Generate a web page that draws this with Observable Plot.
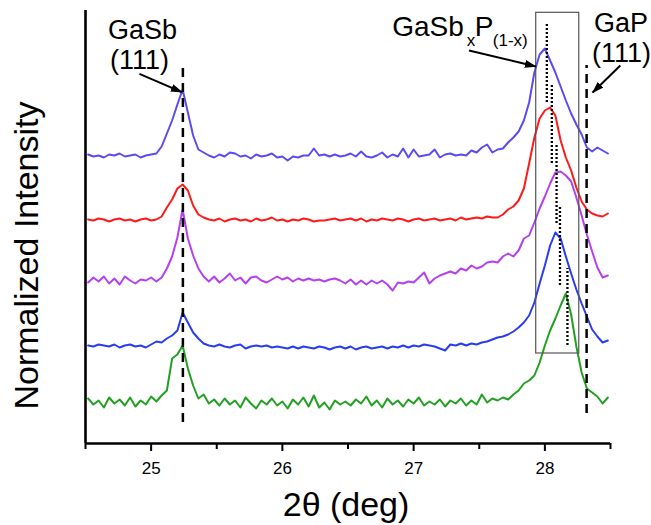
<!DOCTYPE html>
<html><head><meta charset="utf-8">
<script src="https://cdn.jsdelivr.net/npm/d3@7"></script>
<script src="https://cdn.jsdelivr.net/npm/@observablehq/plot@0.6"></script>
<style>body{margin:0;background:#fff;} svg{display:block}</style>
</head><body><div id="chart"></div>
<script>
// 2θ sampling (deg)
const twoTheta = d3.range(100).map(j => +(24.52 + 0.04 * j).toFixed(2));
// vertical offsets of the stacked scans
const offsets = [28.8, 22.4, 16.5, 9.8, 4.1];
const colors = ["#5a4cf2", "#ff1a1a", "#b440f0", "#2a3cf0", "#22a022"];
// relative normalized intensity of each scan
const s1 = [0.1,-0.1,0,-0.2,0.1,0,0.2,-0.1,0,0.1,-0.2,0,0.1,
  0.2,0.9,2.2,3.5,5.1,6.6,4.3,2.0,0.6,0.3,
  0,-0.2,0.1,-0.1,0.3,0.2,-0.1,0,-0.3,0.1,-0.1,0,0.2,-0.2,-0.1,-0.5,-0.1,-0.2,0,0,
  0.7,0,0.1,-0.1,0.1,-0.1,0,0.2,-0.1,0.4,-0.1,-0.2,0,0.3,-0.2,0.1,-0.1,0.7,-0.2,0.6,
  -0.1,0,0.1,0.6,-0.2,0.1,0.2,0,0.1,0,0.5,0.3,0.8,1.1,0.3,0.6,0.7,1.3,1.8,2.4,
  3.5,5.3,8.3,10.1,10.7,9.5,8.3,6.9,5.5,4.2,3.1,2.1,0.8,0.4,0.8,0.5,0.2];
const s2 = [0,-0.1,0.1,0,-0.2,0,0.1,-0.1,0,-0.2,0,0.1,-0.1,0,
  0.3,1.2,2.0,3.1,3.5,2.9,1.4,0.5,0.2,
  0,-0.1,0.1,-0.2,0,0.1,-0.1,0,-0.2,0.1,-0.1,0,0.2,-0.1,0,-0.2,0,-0.1,0.1,0,
  -0.2,-0.1,-0.1,0,0.1,-0.1,0,0.1,-0.1,0.1,-0.2,0,-0.1,0.1,0,-0.1,0.1,0,-0.2,0,
  0.1,-0.1,0,0.1,-0.1,0,0.1,-0.1,0.2,0,0.1,0.2,0.1,0.3,0.2,0.2,0.5,1.0,1.3,1.9,
  3.1,5.6,8.2,10.1,10.9,11.2,10.4,7.9,6.2,4.9,3.2,1.8,1.0,0.6,0.4,0.3,0.6];
const s3 = [-0.4,0.1,-0.3,0.2,-0.5,0,-0.6,0.2,-0.2,-0.5,-0.1,-0.2,0.1,-0.3,
  0.1,1.0,2.2,4.1,6.9,4.0,2.3,1.0,0.2,
  -0.3,0.2,-0.4,0,0.5,-0.2,0.1,-0.5,0.1,0.2,-0.2,-0.4,-0.1,0.2,-0.1,0.1,-0.3,0,-0.2,0,
  -0.2,-0.1,-0.3,-0.1,0,-0.2,-0.5,-0.1,-0.6,-0.2,-0.6,-0.2,-0.5,-0.2,-0.6,-1.2,-0.4,-0.5,-0.3,-0.4,
  0.1,0.6,-0.5,0,0.3,0.5,0.7,0.5,1.0,0.8,1.3,1.0,1.2,1.6,1.7,1.6,2.2,2.5,2.2,2.8,
  4.0,4.3,5.6,7.0,8.2,9.5,10.6,10.7,10.3,9.7,8.1,6.3,4.4,2.7,1.1,0.1,0.3];
const s4 = [0,-0.1,0.1,0,-0.1,0.1,-0.2,0,0.1,-0.1,0,-0.2,
  0.1,0.4,0.3,0.7,1.0,1.5,3.3,2.3,1.3,0.7,0.2,
  0,-0.1,0.1,-0.1,-0.2,0,0.1,-0.3,-0.1,0,-0.1,0,-0.2,-0.1,-0.2,-0.3,-0.1,-0.3,-0.1,-0.2,
  -0.3,-0.1,-0.2,-0.4,-0.2,-0.1,-0.3,-0.1,-0.4,-0.2,-0.1,-0.3,-0.2,-0.1,-0.3,-0.1,-0.2,0,-0.2,0,
  -0.1,0.1,0,-0.1,-0.3,-0.5,0.1,0,0.2,0,0.2,0.1,0.3,0.4,0.6,0.8,0.9,1.1,1.4,1.8,
  2.3,3.0,4.3,6.2,8.0,10.0,11.3,10.7,8.9,7.2,5.6,4.2,2.9,1.6,0.9,0.3,0.5];
const s5 = [0.4,-0.2,0.2,-0.5,0.5,-0.1,0.3,-0.3,0.5,-0.4,0.2,-0.2,0.6,0.1,
  0.7,1.2,4.4,4.8,5.7,3.4,1.7,0.4,0.8,
  -0.1,0.3,-0.3,0.4,-0.2,0.2,-0.5,0.5,-0.1,-0.6,0.2,-0.2,0.4,-0.3,0.1,-0.6,0.3,-0.2,0.5,-0.4,
  0.7,-0.5,0,-0.7,0.2,-0.2,0.1,-0.3,0.3,-0.1,0.6,-0.3,0.2,-0.5,0.4,-0.2,0.2,-0.4,0.3,-0.1,
  0.5,-0.3,0.1,-0.2,0.3,-0.4,0.2,-0.1,0.4,-0.3,0.2,-0.2,0.8,0,0.4,0.2,0.5,0.3,0.8,1.2,
  1.9,2.2,2.7,4.0,5.7,7.2,8.4,9.7,10.9,8.8,5.6,3.0,1.4,1.0,0.6,-0.1,0.5];
// reference reflections (2θ) and GaSbxP(1-x) peak positions
const refX = [25.242, 28.318];
const peakX = [28.015, 28.053, 28.089, 28.115, 28.172];
const majorTicks = [25, 26, 27, 28];
const minorTicks = [24.5, 25.5, 26.5, 27.5, 28.5];

const series = [s1, s2, s3, s4, s5];
const rows = series.flatMap((s, k) => s.map((r, j) => ({x: twoTheta[j], y: offsets[k] + r, k})));

const refRows = [
  {x: refX[0], y1: 2.1, y2: 38.0},
  {x: refX[1], y1: 3.0, y2: 37.8}
];
const peakRows = peakX.map((x, k) => ({x, y1: offsets[k] + [5.3, 5.6, 5.5, 6.0, 5.7][k], y2: offsets[k] + [13.2, 13.4, 13.3, 14.0, 13.4][k]}));

const marks = [
  Plot.ruleY([0], {stroke: "black", strokeWidth: 2.6}),
  Plot.ruleX([24.5], {stroke: "black", strokeWidth: 2.6}),
  Plot.axisX({ticks: majorTicks, tickSize: 8, tickPadding: 10, strokeWidth: 2, fontSize: 17, tickFormat: d3.format("d"), label: null}),
  Plot.axisX({ticks: minorTicks, tickSize: 6, strokeWidth: 2, tickFormat: () => "", label: null}),
  ...series.map((s, k) => Plot.line(rows.filter(d => d.k === k), {x: "x", y: "y", stroke: colors[k], strokeWidth: 2, strokeLinejoin: "round"})),
  Plot.rect([{x1: 27.934, x2: 28.262, y1: 9.0, y2: 43.07}], {x1: "x1", x2: "x2", y1: "y1", y2: "y2", fill: "none", stroke: "#555", strokeWidth: 1.2}),
  Plot.ruleX(refRows, {x: "x", y1: "y1", y2: "y2", stroke: "black", strokeWidth: 2.5, strokeDasharray: "9,6"}),
  Plot.ruleX(peakRows, {x: "x", y1: "y1", y2: "y2", stroke: "black", strokeWidth: 2.3, strokeDasharray: "2,2"}),
  Plot.link([
    {x1: 24.911, y1: 36.97, x2: 25.234, y2: 35.13},
    {x1: 27.422, y1: 39.3, x2: 27.931, y2: 37.7},
    {x1: 28.575, y1: 37.8, x2: 28.364, y2: 35.1}
  ], {x1: "x1", y1: "y1", x2: "x2", y2: "y2", stroke: "black", strokeWidth: 2}),
  Plot.text(["GaSb"], {x: 24.935, y: 40.5, text: d => d, fontSize: 27, lineAnchor: "bottom"}),
  Plot.text(["(111)"], {x: 24.912, y: 37.5, text: d => d, fontSize: 27, lineAnchor: "bottom"}),
  Plot.text(["GaP"], {x: 28.580, y: 41.2, text: d => d, fontSize: 27, lineAnchor: "bottom"}),
  Plot.text(["(111)"], {x: 28.584, y: 38.2, text: d => d, fontSize: 27, lineAnchor: "bottom"}),
  Plot.text(["GaSb"], {x: 27.382, y: 40.8, text: d => d, fontSize: 28, textAnchor: "end", lineAnchor: "bottom"}),
  Plot.text(["x"], {x: 27.405, y: 39.8, text: d => d, fontSize: 17, textAnchor: "start", lineAnchor: "bottom"}),
  Plot.text(["P"], {x: 27.466, y: 40.8, text: d => d, fontSize: 28, textAnchor: "start", lineAnchor: "bottom"}),
  Plot.text(["(1-x)"], {x: 27.603, y: 39.8, text: d => d, fontSize: 17, textAnchor: "start", lineAnchor: "bottom"}),
  Plot.text(["2θ (deg)"], {x: 26.485, y: -7.2, text: d => d, fontSize: 34, lineAnchor: "bottom"}),
  Plot.text(["Normalized Intensity"], {x: 24.053, y: 18.8, text: d => d, fontSize: 34, rotate: -90})
];

const chart = Plot.plot({
  width: 651,
  height: 525,
  marginLeft: 85,
  marginRight: 41,
  marginTop: 10,
  marginBottom: 82,
  x: {domain: [24.5, 28.5], axis: null},
  y: {domain: [0, 43.3], axis: null},
  style: {fontFamily: "'Liberation Sans', Arial, sans-serif", background: "white", color: "black", overflow: "visible"},
  marks
});

// filled arrowheads for the annotation arrows
const svg = d3.select(chart);
const defs = svg.insert("defs", ":first-child");
defs.append("marker").attr("id", "ah").attr("viewBox", "0 0 12 8").attr("refX", 11).attr("refY", 4)
  .attr("markerWidth", 6).attr("markerHeight", 4).attr("orient", "auto")
  .append("path").attr("d", "M0,0L12,4L0,8z").attr("fill", "black");
svg.selectAll("g[aria-label=link] path").attr("marker-end", "url(#ah)");

document.getElementById("chart").append(chart);
</script>
</body></html>
